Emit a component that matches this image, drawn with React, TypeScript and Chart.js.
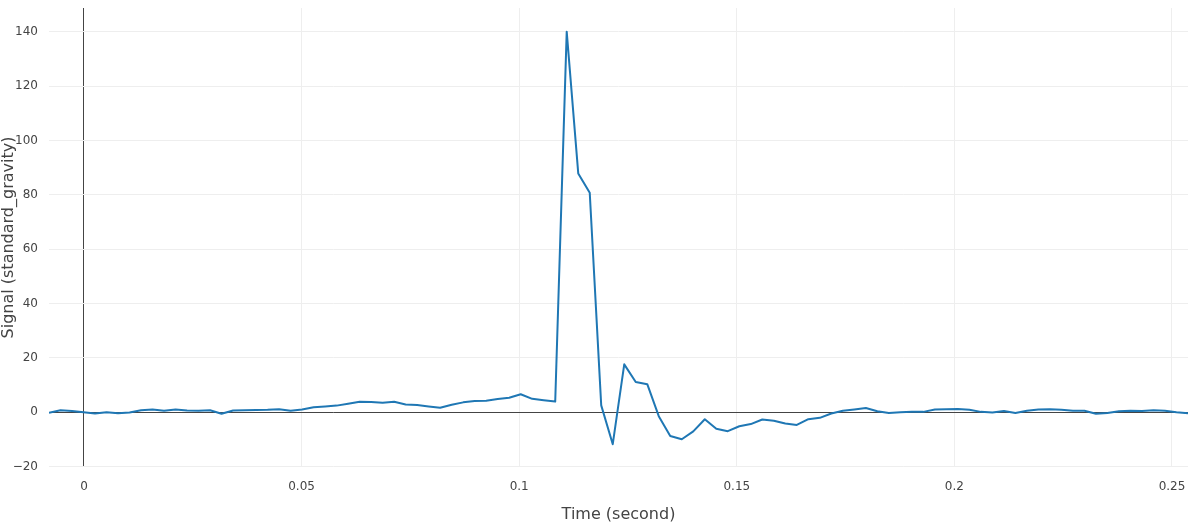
import React, { useEffect, useRef } from "react";
import { Chart, registerables } from "chart.js";

Chart.register(...registerables);

const times: number[] = [
  -0.00804, -0.0054, -0.00275, -0.00011, 0.00253, 0.00518, 0.00782, 0.01047, 0.01311, 0.01575,
  0.0184, 0.02104, 0.02368, 0.02633, 0.02897, 0.03161, 0.03426, 0.0369, 0.03954, 0.04219,
  0.04483, 0.04748, 0.05012, 0.05276, 0.05541, 0.05805, 0.06069, 0.06334, 0.06598, 0.06862,
  0.07127, 0.07391, 0.07656, 0.0792, 0.08184, 0.08449, 0.08713, 0.08977, 0.09242, 0.09506,
  0.0977, 0.10035, 0.10299, 0.10563, 0.10828, 0.11092, 0.11357, 0.11621, 0.11885, 0.1215,
  0.12414, 0.12678, 0.12943, 0.13207, 0.13471, 0.13736, 0.14, 0.14265, 0.14529, 0.14793,
  0.15058, 0.15322, 0.15586, 0.15851, 0.16115, 0.16379, 0.16644, 0.16908, 0.17172, 0.17437,
  0.17701, 0.17966, 0.1823, 0.18494, 0.18759, 0.19023, 0.19287, 0.19552, 0.19816, 0.2008,
  0.20345, 0.20609, 0.20874, 0.21138, 0.21402, 0.21667, 0.21931, 0.22195, 0.2246, 0.22724,
  0.22988, 0.23253, 0.23517, 0.23782, 0.24046, 0.2431, 0.24575, 0.24839, 0.25103, 0.25368,
];

const signal: number[] = [
  -0.2, 0.7, 0.4, 0.0, -0.5, 0.0, -0.4, -0.1, 0.7, 1.0,
  0.5, 1.0, 0.6, 0.5, 0.7, -0.6, 0.6, 0.7, 0.8, 0.9,
  1.1, 0.5, 1.0, 1.8, 2.1, 2.4, 3.1, 3.8, 3.7, 3.5,
  3.8, 2.8, 2.6, 2.1, 1.6, 2.7, 3.6, 4.1, 4.2, 4.8,
  5.3, 6.6, 4.9, 4.4, 3.9, 140.1, 87.9, 80.8, 2.5, -11.8,
  17.6, 11.1, 10.3, -1.5, -8.8, -10.0, -7.1, -2.6, -6.1, -7.0,
  -5.2, -4.4, -2.7, -3.2, -4.2, -4.7, -2.6, -2.1, -0.5, 0.5,
  1.0, 1.5, 0.3, -0.3, 0.0, 0.1, 0.1, 1.0, 1.1, 1.2,
  0.9, 0.1, -0.1, 0.4, -0.3, 0.5, 1.0, 1.1, 0.9, 0.5,
  0.5, -0.6, -0.3, 0.3, 0.5, 0.4, 0.7, 0.5, 0.0, -0.4,
];

const xTitle = "Time (second)";
const yTitle = "Signal (standard_gravity)";
const xRange = [-0.00804, 0.25368];
const yRange = [-20.2, 148.8];
const xStep = 0.05;
const yStep = 20;

const FONT = '"DejaVu Sans", Verdana, sans-serif';
const TEXT = "#444";

const titlePlugin = {
  id: "axisTitles",
  afterDraw(chart: any) {
    const { ctx, chartArea } = chart;
    ctx.save();
    ctx.fillStyle = TEXT;
    ctx.font = `16px ${FONT}`;
    ctx.textAlign = "center";
    ctx.textBaseline = "middle";
    ctx.fillText(xTitle, (chartArea.left + chartArea.right) / 2, 515);
    ctx.translate(9, (chartArea.top + chartArea.bottom) / 2);
    ctx.rotate(-Math.PI / 2);
    ctx.fillText(yTitle, 0, 0);
    ctx.restore();
  },
};

export default function App() {
  const ref = useRef<HTMLCanvasElement | null>(null);
  useEffect(() => {
    if (!ref.current) return;
    const chart = new Chart(ref.current, {
      type: "line",
      data: {
        datasets: [
          {
            data: times.map((t, i) => ({ x: t, y: signal[i] })),
            borderColor: "#1f77b4",
            borderWidth: 2,
            pointRadius: 0,
            tension: 0,
            borderJoinStyle: "round",
            fill: false,
          },
        ],
      },
      options: {
        responsive: false,
        animation: false,
        layout: { padding: { top: 8, right: 13, left: 0, bottom: 0 } },
        plugins: { legend: { display: false }, tooltip: { enabled: false } },
        scales: {
          x: {
            type: "linear",
            min: xRange[0],
            max: xRange[1],
            afterFit: (s: any) => {
              s.height = 63;
              s.paddingLeft = 0;
              s.paddingRight = 0;
            },
            border: { display: false },
            grid: {
              drawTicks: false,
              lineWidth: 1,
              color: (c: any) => (c.tick && c.tick.value === 0 ? "#444" : "#eee"),
            },
            ticks: {
              stepSize: xStep,
              includeBounds: false,
              padding: 13,
              maxRotation: 0,
              autoSkip: false,
              color: TEXT,
              font: { family: FONT, size: 12 },
              callback: (v: any) => String(Number(Number(v).toFixed(3))),
            },
          },
          y: {
            type: "linear",
            min: yRange[0],
            max: yRange[1],
            afterFit: (s: any) => {
              s.width = 49;
              s.paddingTop = 0;
              s.paddingBottom = 0;
            },
            border: { display: false },
            grid: {
              drawTicks: false,
              lineWidth: 1,
              color: (c: any) => (c.tick && c.tick.value === 0 ? "#444" : "#eee"),
            },
            ticks: {
              stepSize: yStep,
              includeBounds: false,
              padding: 11,
              autoSkip: false,
              color: TEXT,
              font: { family: FONT, size: 12 },
              callback: (v: any) => String(Math.round(Number(v))).replace("-", "\u2212"),
            },
          },
        },
      },
      plugins: [titlePlugin],
    });
    return () => chart.destroy();
  }, []);
  return (
    <div style={{ position: "absolute", left: 0, top: 0, width: 1201, height: 530, background: "#fff" }}>
      <canvas ref={ref} width={1201} height={530} style={{ width: 1201, height: 530 }} />
    </div>
  );
}
